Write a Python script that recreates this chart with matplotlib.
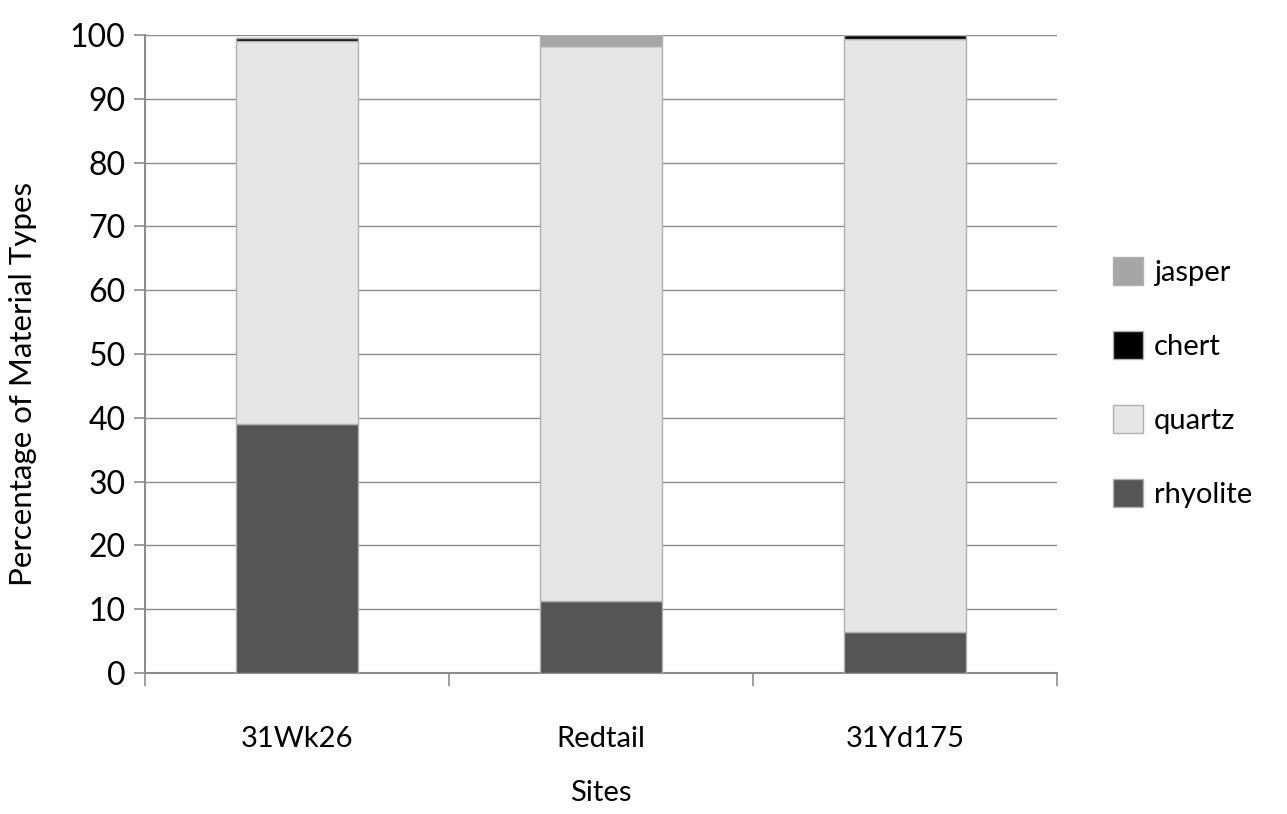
import numpy as np
import matplotlib.pyplot as plt
from matplotlib.patches import Patch

plt.rcParams['font.family'] = ['Lato', 'DejaVu Sans']

sites = ['31Wk26', 'Redtail', '31Yd175']
rhyolite = [39.0, 11.3, 6.4]
quartz = [60.0, 87.0, 92.9]
chert = [0.6, 0.0, 0.7]
jasper = [0.0, 1.7, 0.0]

series = [('rhyolite', rhyolite, '#555555'),
          ('quartz', quartz, '#e6e6e6'),
          ('chert', chert, '#000000'),
          ('jasper', jasper, '#a6a6a6')]

fig = plt.figure(figsize=(12.87, 8.14), dpi=100)
ax = fig.add_axes([0.1127, 0.1732, 0.7086, 0.7838])

x = np.arange(len(sites))
bottom = np.zeros(len(sites))
for name, vals, col in series:
    vals = np.array(vals)
    ax.bar(x, vals, width=0.4, bottom=bottom, color=col,
           edgecolor='#b0b0b0', linewidth=1.0, zorder=3)
    bottom += vals

ax.set_ylim(0, 100)
ax.set_xlim(-0.5, len(sites) - 0.5)
ax.set_yticks(np.arange(0, 101, 10))
ax.yaxis.grid(True, color='#8c8c8c', linewidth=1.0, zorder=0)
ax.set_xticks(x)
ax.set_xticklabels(sites)
ax.set_xticks(np.arange(-0.5, len(sites), 1), minor=True)
ax.tick_params(axis='x', which='major', length=0, labelsize=21, pad=38)
ax.tick_params(axis='x', which='minor', length=9, color='#8c8c8c', width=1.2)
ax.tick_params(axis='y', length=8, color='#8c8c8c', width=1.2, labelsize=23, pad=6)

for s in ['top', 'right']:
    ax.spines[s].set_visible(False)
for s in ['left', 'bottom']:
    ax.spines[s].set_color('#8c8c8c')
    ax.spines[s].set_linewidth(1.5)

ax.set_xlabel('Sites', fontsize=21, labelpad=20)
ax.set_ylabel('Percentage of Material Types', fontsize=22.5)
ax.yaxis.set_label_coords(-0.118, 0.453)

handles = [Patch(facecolor=col, edgecolor='#b0b0b0', label=name)
           for name, vals, col in reversed(series)]
ax.legend(handles=handles, loc='center left', bbox_to_anchor=(1.033, 0.455),
          frameon=False, fontsize=21, labelspacing=1.55,
          handlelength=1.0, handleheight=1.1, handletextpad=0.4)

fig.savefig('out.png', dpi=100)
